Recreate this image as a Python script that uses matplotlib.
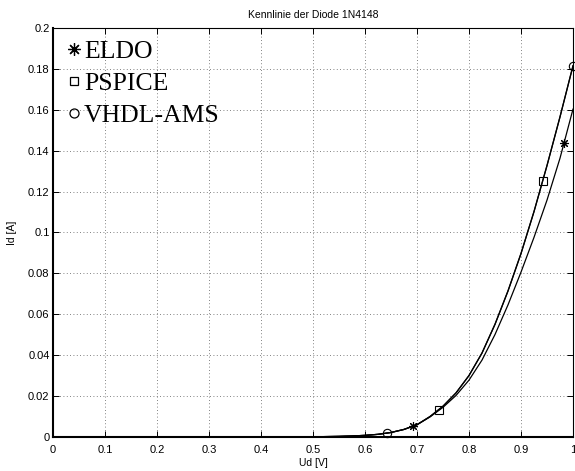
import numpy as np
from matplotlib import pyplot as plt
from matplotlib.lines import Line2D

# Kennlinie 1N4148, values
ud = [0.0, 0.1, 0.2, 0.3, 0.4, 0.45, 0.5, 0.55, 0.575, 0.6, 0.625, 0.65, 0.675, 0.7,
      0.725, 0.75, 0.775, 0.8, 0.825, 0.85, 0.875, 0.9, 0.925, 0.95, 0.975, 1.0]
id_eldo = [0.0, 0.0, 0.0, 0.0, 0.0, 0.00002, 0.0001, 0.0003, 0.0005, 0.0008, 0.0013,
           0.0022, 0.0037, 0.006, 0.0098, 0.0145, 0.0203, 0.0278, 0.0376, 0.0501,
           0.0646, 0.0806, 0.0976, 0.1158, 0.1363, 0.1603]
id_pspice = [0.0, 0.0, 0.0, 0.0, 0.0, 0.00002, 0.0001, 0.0003, 0.0005, 0.0008, 0.0013,
             0.0022, 0.0037, 0.006, 0.01, 0.015, 0.0215, 0.03, 0.041, 0.055,
             0.0713, 0.0896, 0.1101, 0.1326, 0.1564, 0.1814]
id_vhdl = [0.0, 0.0, 0.0, 0.0, 0.0, 0.00002, 0.0001, 0.0003, 0.0005, 0.0008, 0.0013,
           0.0022, 0.0037, 0.006, 0.01, 0.0151, 0.0216, 0.0301, 0.0411, 0.0552,
           0.0715, 0.0898, 0.1103, 0.1328, 0.1566, 0.1816]

# sparse marker positions
eldo_mx, eldo_my = [0.692, 0.983], [0.0053, 0.1437]
pspice_mx, pspice_my = [0.742, 0.942], [0.0133, 0.1254]
vhdl_mx, vhdl_my = [0.642, 1.0], [0.0019, 0.1816]

xticks = [0, 0.1, 0.2, 0.3, 0.4, 0.5, 0.6, 0.7, 0.8, 0.9, 1]
xlabels = ["0", "0.1", "0.2", "0.3", "0.4", "0.5", "0.6", "0.7", "0.8", "0.9", "1"]
yticks = [0, 0.02, 0.04, 0.06, 0.08, 0.1, 0.12, 0.14, 0.16, 0.18, 0.2]
ylabels = ["0", "0.02", "0.04", "0.06", "0.08", "0.1", "0.12", "0.14", "0.16", "0.18", "0.2"]

plt.rcParams['font.family'] = ['Liberation Sans', 'DejaVu Sans']

fig = plt.figure(figsize=(5.75, 4.71), dpi=100)
ax = fig.add_axes([0.0922, 0.0722, 0.9043, 0.8684])

asterisk = (8, 2, 0)

ax.plot(ud, id_eldo, color='black', linewidth=0.9)
ax.plot(ud, id_pspice, color='black', linewidth=0.9)
ax.plot(ud, id_vhdl, color='black', linewidth=0.9)
ax.plot(eldo_mx, eldo_my, linestyle='none', marker=asterisk, markersize=6.5,
        color='black', markeredgewidth=0.8)
ax.plot(pspice_mx, pspice_my, linestyle='none', marker='s', markersize=5.5,
        markerfacecolor='none', markeredgecolor='black', markeredgewidth=0.8)
ax.plot(vhdl_mx, vhdl_my, linestyle='none', marker='o', markersize=6,
        markerfacecolor='none', markeredgecolor='black', markeredgewidth=0.8, clip_on=False)

ax.set_xlim(0, 1)
ax.set_ylim(0, 0.2)
ax.set_xticks(xticks)
ax.set_xticklabels(xlabels)
ax.set_yticks(yticks)
ax.set_yticklabels(ylabels)
ax.tick_params(direction='in', length=4, width=0.7, top=True, right=True,
               labelsize=8)
ax.tick_params(axis='x', pad=5.5)
ax.tick_params(axis='y', pad=2.5)
ax.grid(True, color='0.35', linestyle=(0, (1, 3)), linewidth=0.6)
for side in ['left', 'bottom']:
    ax.spines[side].set_linewidth(1.5)
for side in ['top', 'right']:
    ax.spines[side].set_linewidth(0.8)

ax.set_title("Kennlinie der Diode 1N4148", fontsize=7.5, pad=7)
ax.set_xlabel("Ud [V]", fontsize=7.5, labelpad=2.5)
ax.set_ylabel("Id [A]", fontsize=7.5, labelpad=8)

handles = [
    Line2D([], [], linestyle='none', marker=asterisk, markersize=9, color='black', markeredgewidth=0.9),
    Line2D([], [], linestyle='none', marker='s', markersize=5.5, markerfacecolor='none',
           markeredgecolor='black', markeredgewidth=0.9),
    Line2D([], [], linestyle='none', marker='o', markersize=6.5, markerfacecolor='none',
           markeredgecolor='black', markeredgewidth=0.9),
]
ax.legend(handles, ["ELDO", "PSPICE", "VHDL-AMS"], loc='upper left', frameon=False,
          prop={'family': 'Liberation Serif', 'size': 18.5}, handlelength=0.7,
          handletextpad=0.05, labelspacing=0.36, borderaxespad=0.3, borderpad=0.15)

fig.savefig("out.png", dpi=100)
